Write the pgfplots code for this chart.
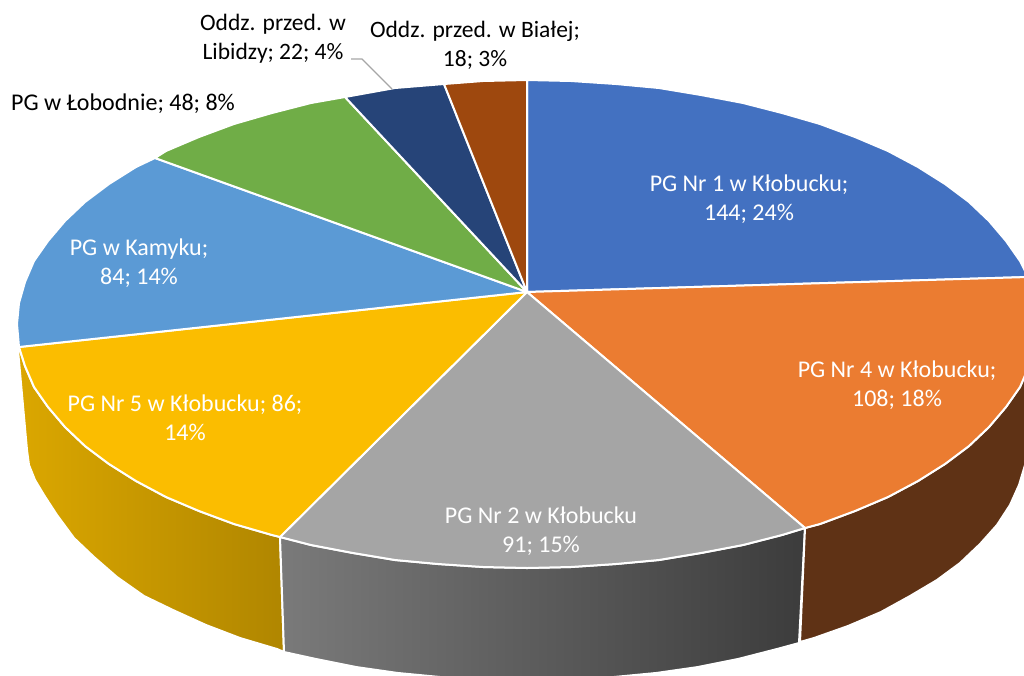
\documentclass[border=0pt]{standalone}
\usepackage{fontspec}
\setmainfont{Carlito}
\usepackage{pgfplots}
\pgfplotsset{compat=1.18}
\definecolor{sblue}{HTML}{4371C1}
\definecolor{sorange}{HTML}{EB7C31}
\definecolor{sgrey}{HTML}{A5A5A5}
\definecolor{sgold}{HTML}{FBBD00}
\definecolor{slight}{HTML}{5B9AD5}
\definecolor{sgreen}{HTML}{70AD47}
\definecolor{snavy}{HTML}{264478}
\definecolor{srust}{HTML}{9E480E}
\definecolor{sbrown}{HTML}{5F3215}
\definecolor{leader}{HTML}{A6A6A6}
\tikzset{
  slice/.style={draw=white, line width=2pt, line join=round},
  lab/.style={align=center, inner sep=0pt, font=\fontsize{24}{29}\selectfont},
  labs/.style={align=center, inner sep=0pt, font=\fontsize{23.5}{29}\selectfont},
}
\begin{document}
\begin{tikzpicture}
\useasboundingbox (0,0) rectangle (1024pt,675pt);
\begin{axis}[
  scale only axis, width=1024pt, height=675pt,
  xmin=0, xmax=1024, ymin=0, ymax=675,
  y dir=reverse, hide axis,
]
% side walls (pixel positions)
\addplot[slice, left color={rgb,255:red,219;green,167;blue,0}, right color={rgb,255:red,176;green,134;blue,0}] coordinates {
  (18,350) (19,347) (25,366) (34,387) (48,407) (65,427) (85,446) (109,464) (136,481) (166,497) (199,511) (234,524) (272,535) (280,537)
  (284,652) (277,649) (240,638) (206,625) (173,610) (144,596) (117,577) (94,557) (74,538) (57,515) (44,495) (35,480) (29,465) (27,450) (18,350)
} -- cycle;
\addplot[slice, left color={rgb,255:red,122;green,122;blue,122}, right color={rgb,255:red,60;green,60;blue,60}] coordinates {
  (280,537) (311,545) (353,553) (395,560) (438,564) (483,567) (527,568) (571,567) (616,564) (659,560) (701,553) (743,545) (782,535) (805,528)
  (799,643) (777,649) (738,659) (698,667) (656,673) (614,677) (571,680) (527,681) (483,680) (440,677) (398,673) (356,667) (316,659) (284,652) (280,537)
} -- cycle;
\addplot[slice, fill=sbrown] coordinates {
  (805,528) (820,524) (855,511) (888,497) (918,481) (945,464) (969,446) (989,427) (1006,407) (1020,387) (1029,366) (1035,345)
  (1035,444) (1027,444) (1025,465) (1019,485) (1010,505) (997,525) (980,544) (960,563) (937,580) (910,596) (881,612) (848,626) (814,638) (800,642) (805,528)
} -- cycle;
% top face
\addplot[slice, fill=sblue] coordinates {
  (527,292) (527,80) (571,81) (616,84) (659,88) (701,95) (743,103) (782,113) (820,124) (855,137) (888,151) (918,167) (945,184) (969,202) (989,221) (1006,241) (1020,261) (1028,277) (527,292)
} -- cycle;
\addplot[slice, fill=sorange] coordinates {
  (527,292) (1028,277) (1029,282) (1035,303) (1037,324) (1035,345) (1029,366) (1020,387) (1006,407) (989,427) (969,446) (945,464) (918,481) (888,497) (855,511) (820,524) (805,528) (527,292)
} -- cycle;
\addplot[slice, fill=sgrey] coordinates {
  (527,292) (805,528) (782,535) (743,545) (701,553) (659,560) (616,564) (571,567) (527,568) (483,567) (438,564) (395,560) (353,553) (311,545) (280,537) (527,292)
} -- cycle;
\addplot[slice, fill=sgold] coordinates {
  (527,292) (280,537) (272,535) (234,524) (199,511) (166,497) (136,481) (109,464) (85,446) (65,427) (48,407) (34,387) (25,366) (19,347) (527,292)
} -- cycle;
\addplot[slice, fill=slight] coordinates {
  (527,292) (19,347) (17,324) (19,303) (25,282) (34,261) (48,241) (65,221) (85,202) (109,184) (136,167) (155,158) (527,292)
} -- cycle;
\addplot[slice, fill=sgreen] coordinates {
  (527,292) (155,158) (166,151) (199,137) (234,124) (272,113) (311,103) (345,97) (527,292)
} -- cycle;
\addplot[slice, fill=snavy] coordinates {
  (527,292) (345,97) (395,88) (444,84) (527,292)
} -- cycle;
\addplot[slice, fill=srust] coordinates {
  (527,292) (444,84) (483,81) (527,80) (527,292)
} -- cycle;
% leader line
\addplot[leader, line width=1.2pt] coordinates {(351,59) (362,59) (392,89)};
% labels
\node[lab, text=white] at (axis cs:749,199) {PG Nr 1 w Kłobucku;\\144; 24\%};
\node[lab, text=white] at (axis cs:897,385) {PG Nr 4 w Kłobucku;\\108; 18\%};
\node[lab, text=white] at (axis cs:541,531) {PG Nr 2 w Kłobucku\\91; 15\%};
\node[lab, text=white] at (axis cs:185,418) {PG Nr 5 w Kłobucku; 86;\\14\%};
\node[lab, text=white] at (axis cs:139,263) {PG w Kamyku;\\84; 14\%};
\node[lab, text=black] at (axis cs:123,104) {PG w Łobodnie; 48; 8\%};
\node[labs, text=black] at (axis cs:273,39) {Oddz. przed. w\\Libidzy; 22; 4\%};
\node[labs, text=black] at (axis cs:475,45) {Oddz. przed. w Białej;\\18; 3\%};
\end{axis}
\end{tikzpicture}
\end{document}
